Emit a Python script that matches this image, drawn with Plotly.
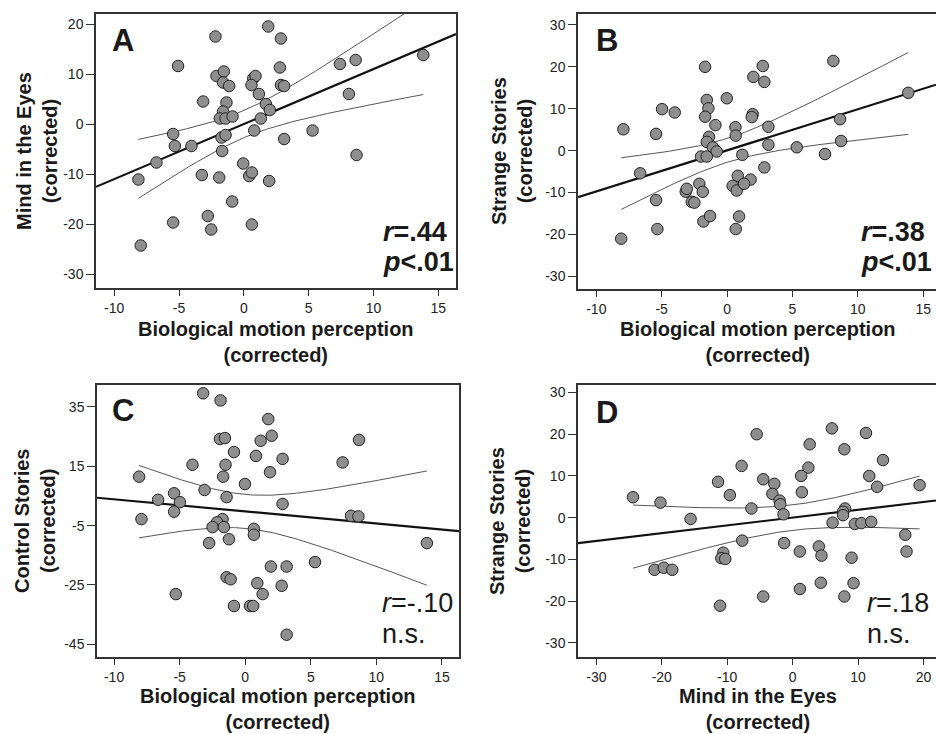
import numpy as np
import plotly.graph_objects as go

# ---------------- data ----------------
a_bio = [1.88, -2.19, 2.86, -5.07, 2.78, -2.11, -1.54, -1.60, -1.13, 0.72, 0.9, 0.59, 1.16, 2.86, 3.11,
         -3.14, -1.34, 1.70, 2.0, -1.60, -1.85, -1.41, -0.87, 1.31, -5.45, -1.72, -1.41, 0.80, 3.11,
         -5.32, -4.04, -1.67, -6.74, -0.05, -8.13, -3.24, -1.90, 0.41, 0.62, 1.95, -0.90, -5.45, -2.78,
         -2.52, 0.62, -7.95, 7.41, 8.62, 13.84, 8.10, 5.30, 8.69]
a_eyes = [19.5, 17.5, 17.1, 11.6, 11.3, 9.6, 10.5, 8.3, 7.6, 9.1, 9.6, 7.8, 6.0, 7.8, 7.6,
          4.5, 4.3, 4.0, 2.8, 2.5, 1.1, 1.1, 1.5, 1.1, -2.0, -2.7, -2.2, -1.3, -3.0,
          -4.4, -4.4, -5.4, -7.7, -7.9, -11.1, -10.2, -10.7, -10.4, -9.7, -11.4, -15.5, -19.7, -18.4,
          -21.1, -20.1, -24.3, 12.0, 12.8, 13.8, 6.0, -1.3, -6.2]

b_bio = [-1.68, 2.01, 2.73, 2.85, -0.02, -1.55, -1.43, -4.97, -4.00, -1.68, 1.96, 1.89, -7.93, -5.43,
         -0.89, 0.64, 0.66, -1.38, -1.55, -1.09, -0.79, -1.99, -1.55, 1.17, -6.65, 3.16, 3.16, 5.33,
         7.49, 8.64, 8.72, 8.13, 13.86, 2.85, 1.80, 0.82, 0.43, 0.74, 1.30, -2.12, -1.86, -3.16, -3.08,
         -2.70, -2.50, -5.43, -1.81, -1.30, 0.92, 0.66, -5.33, -8.10]
b_strange = [20.0, 17.6, 20.2, 16.4, 12.5, 12.1, 10.1, 9.9, 9.1, 8.1, 8.7, 8.0, 5.1, 4.0,
             6.1, 5.6, 3.6, 3.3, 2.1, 0.8, -0.2, -1.4, -1.4, -1.0, -5.4, 5.7, 1.4, 0.8,
             -0.8, 7.5, 2.3, 21.4, 13.8, -4.0, -6.9, -6.0, -8.4, -9.5, -7.9, -7.9, -9.8, -9.8, -9.1,
             -12.2, -12.4, -11.8, -16.9, -15.6, -15.7, -18.7, -18.7, -21.0]

c_bio = [-3.21, -1.88, 1.76, 2.02, 1.18, -1.93, -1.55, -0.86, 0.82, 2.85, -4.02, -1.50, 1.89, -8.09,
         -1.68, -0.02, -3.10, -1.42, -5.42, -6.64, -4.98, -5.42, 2.85, -7.91, -1.73, -2.14, -2.49,
         -1.63, 0.66, 0.66, -2.75, -1.24, 1.96, -1.42, -1.11, 0.92, 3.16, 2.78, 1.33, -5.29, -0.86,
         0.36, 0.61, 3.16, 5.32, 7.43, 8.68, 8.07, 8.63, 13.85]
c_control = [39.6, 37.2, 30.9, 25.3, 23.6, 24.2, 24.5, 19.8, 18.5, 17.5, 15.5, 15.5, 13.0, 11.5,
             11.5, 9.0, 7.0, 4.6, 5.9, 3.7, 2.9, -0.3, 2.3, -2.8, -2.8, -3.9, -5.5,
             -5.5, -6.1, -8.1, -10.9, -9.6, -18.8, -22.4, -23.1, -24.4, -18.8, -25.3, -28.1, -28.1, -32.1,
             -32.1, -32.1, -41.8, -17.3, 16.3, 23.9, -1.7, -1.9, -10.9]

d_eyes = [-24.4, -20.2, -21.1, -19.7, -18.4, -15.6, -11.4, -9.6, -7.8, -5.5, -6.3, -7.7, -10.6, -10.9,
          -10.3, -11.1, -4.5, -2.8, -3.1, -2.0, -1.9, -1.4, -1.3, 1.1, 4.0, 4.4, 9.0, -4.5, 1.1, 4.3,
          9.3, 7.9, 2.6, 6.0, 7.9, 11.2, 13.8, 2.4, 1.3, 1.4, 11.7, 12.9, 19.4, 8.0, 7.7, 7.7, 6.1,
          9.5, 10.5, 12.0, 17.2, 17.4]
d_strange = [4.9, 3.6, -12.5, -12.0, -12.5, -0.3, 8.6, 5.4, 12.4, 20.0, 2.2, -5.5, -8.4, -9.7,
             -9.9, -21.1, 9.2, 8.1, 5.7, 4.1, 3.2, 0.8, -6.1, -8.1, -6.9, -9.1, -9.6, -18.9, -17.1, -15.6,
             -15.7, -18.9, 17.6, 21.4, 16.4, 20.3, 13.8, 12.0, 10.0, 6.1, 10.0, 7.4, 7.8, 2.2, 1.4, 0.6, -1.2,
             -1.5, -1.3, -1.0, -4.1, -8.1]

bio_ticks = [-10, -5, 0, 5, 10, 15]
eyes_ticks_a = [-30, -20, -10, 0, 10, 20]
strange_ticks = [-30, -20, -10, 0, 10, 20, 30]
control_ticks = [-45, -25, -5, 15, 35]
eyes_ticks_d = [-30, -20, -10, 0, 10, 20]

panel_letters = ["A", "B", "C", "D"]
r_texts = ["<b><i>r</i>=.44</b>", "<b><i>r</i>=.38</b>", "<i>r</i>=-.10", "<i>r</i>=.18"]
p_texts = ["<b><i>p</i>&lt;.01</b>", "<b><i>p</i>&lt;.01</b>", "n.s.", "n.s."]
x_titles = ["Biological motion perception<br>(corrected)"] * 3 + ["Mind in the Eyes<br>(corrected)"]
y_titles = ["Mind in the Eyes<br>(corrected)", "Strange Stories<br>(corrected)",
            "Control Stories<br>(corrected)", "Strange Stories<br>(corrected)"]

T_CRIT = 2.01  # t(0.975, ~50 df)

W, H = 936, 734
FONT = "Liberation Sans, Arial, Helvetica, sans-serif"


def px(x):
    return x / W


def py(y):
    return 1 - y / H


panels = [
    dict(x=a_bio, y=a_eyes, xr=[-11.4, 16.36], yr=[-32.8, 22.0], xt=bio_ticks, yt=eyes_ticks_a,
         xd=[px(96), px(456)], yd=[py(288), py(14)], right=True),
    dict(x=b_bio, y=b_strange, xr=[-11.4, 15.98], yr=[-33.0, 32.6], xt=bio_ticks, yt=strange_ticks,
         xd=[px(578), 1.0], yd=[py(289), py(14)], right=False),
    dict(x=c_bio, y=c_control, xr=[-11.3, 16.3], yr=[-49.3, 42.4], xt=bio_ticks, yt=control_ticks,
         xd=[px(97), px(459)], yd=[py(657), py(385)], right=True),
    dict(x=d_eyes, y=d_strange, xr=[-32.8, 21.9], yr=[-33.4, 31.8], xt=eyes_ticks_d, yt=strange_ticks,
         xd=[px(578), 1.0], yd=[py(657), py(385)], right=False),
]

fig = go.Figure()
layout = dict(width=W, height=H, margin=dict(l=0, r=0, t=0, b=0), showlegend=False,
              plot_bgcolor="white", paper_bgcolor="white", font=dict(family=FONT, color="#222"))
annotations = []

for i, p in enumerate(panels):
    k = "" if i == 0 else str(i + 1)
    xa, ya = "x" + k, "y" + k
    x = np.array(p["x"], float)
    y = np.array(p["y"], float)
    n = len(x)
    slope, icpt = np.polyfit(x, y, 1)
    xbar = x.mean()
    sxx = ((x - xbar) ** 2).sum()
    resid = y - (icpt + slope * x)
    s = np.sqrt((resid ** 2).sum() / (n - 2))
    xs = np.linspace(x.min(), x.max(), 120)
    half = T_CRIT * s * np.sqrt(1 / n + (xs - xbar) ** 2 / sxx)
    yhat = icpt + slope * xs
    for band in (yhat + half, yhat - half):
        fig.add_trace(go.Scatter(x=xs, y=band, mode="lines", xaxis=xa, yaxis=ya,
                                 line=dict(color="#555", width=1), hoverinfo="skip"))
    xl = np.array(p["xr"])
    fig.add_trace(go.Scatter(x=xl, y=icpt + slope * xl, mode="lines", xaxis=xa, yaxis=ya,
                             line=dict(color="#111", width=2.2)))
    fig.add_trace(go.Scatter(x=x, y=y, mode="markers", xaxis=xa, yaxis=ya,
                             marker=dict(size=11.5, color="#8e8e8e", line=dict(color="#222", width=1))))

    axis_common = dict(showgrid=False, zeroline=False, showline=True, linecolor="#333", linewidth=1.5,
                       ticks="outside", ticklen=6, tickcolor="#333", tickwidth=1,
                       tickfont=dict(size=14, family=FONT, color="#222"))
    layout["xaxis" + k] = dict(axis_common, domain=p["xd"], range=p["xr"], anchor=ya,
                               tickvals=p["xt"], ticktext=[str(v) for v in p["xt"]], mirror=True)
    layout["yaxis" + k] = dict(axis_common, domain=p["yd"], range=p["yr"], anchor=xa,
                               tickvals=p["yt"], ticktext=[str(v) for v in p["yt"]],
                               mirror=True if p["right"] else False, ticklen=8)

letter_pos = [(110, 40), (594, 40), (110, 410), (594, 412)]
stat_left = [381, 859, 380, 865]
r_y = [232, 232, 603, 603]
p_y = [262, 262, 634, 634]
xt_pos = [(276, 342), (758, 342), (278, 709), (758, 709)]
yt_pos = [(37, 151), (512, 151), (35, 521), (510, 521)]

for i in range(4):
    annotations.append(dict(text="<b>" + panel_letters[i] + "</b>", x=px(letter_pos[i][0]), y=py(letter_pos[i][1]),
                            xref="paper", yref="paper", xanchor="left", yanchor="middle", showarrow=False,
                            font=dict(size=31, family=FONT, color="#1a1a1a")))
    annotations.append(dict(text=r_texts[i], x=px(stat_left[i]), y=py(r_y[i]), xref="paper", yref="paper",
                            xanchor="left", yanchor="middle", showarrow=False,
                            font=dict(size=27, family=FONT, color="#1a1a1a")))
    annotations.append(dict(text=p_texts[i], x=px(stat_left[i]), y=py(p_y[i]), xref="paper", yref="paper",
                            xanchor="left", yanchor="middle", showarrow=False,
                            font=dict(size=27, family=FONT, color="#1a1a1a")))
    annotations.append(dict(text="<b>" + x_titles[i].replace("<br>", "</b><br><b>") + "</b>",
                            x=px(xt_pos[i][0]), y=py(xt_pos[i][1]), xref="paper", yref="paper",
                            xanchor="center", yanchor="middle", showarrow=False,
                            font=dict(size=20, family=FONT, color="#1a1a1a")))
    annotations.append(dict(text="<b>" + y_titles[i].replace("<br>", "</b><br><b>") + "</b>",
                            x=px(yt_pos[i][0]), y=py(yt_pos[i][1]), xref="paper", yref="paper",
                            xanchor="center", yanchor="middle", textangle=-90, showarrow=False,
                            font=dict(size=20, family=FONT, color="#1a1a1a")))

layout["annotations"] = annotations
fig.update_layout(**layout)
fig.write_html("out.html", config={"displayModeBar": False},
               post_script="document.body.style.margin='0';document.body.style.overflow='hidden';")
